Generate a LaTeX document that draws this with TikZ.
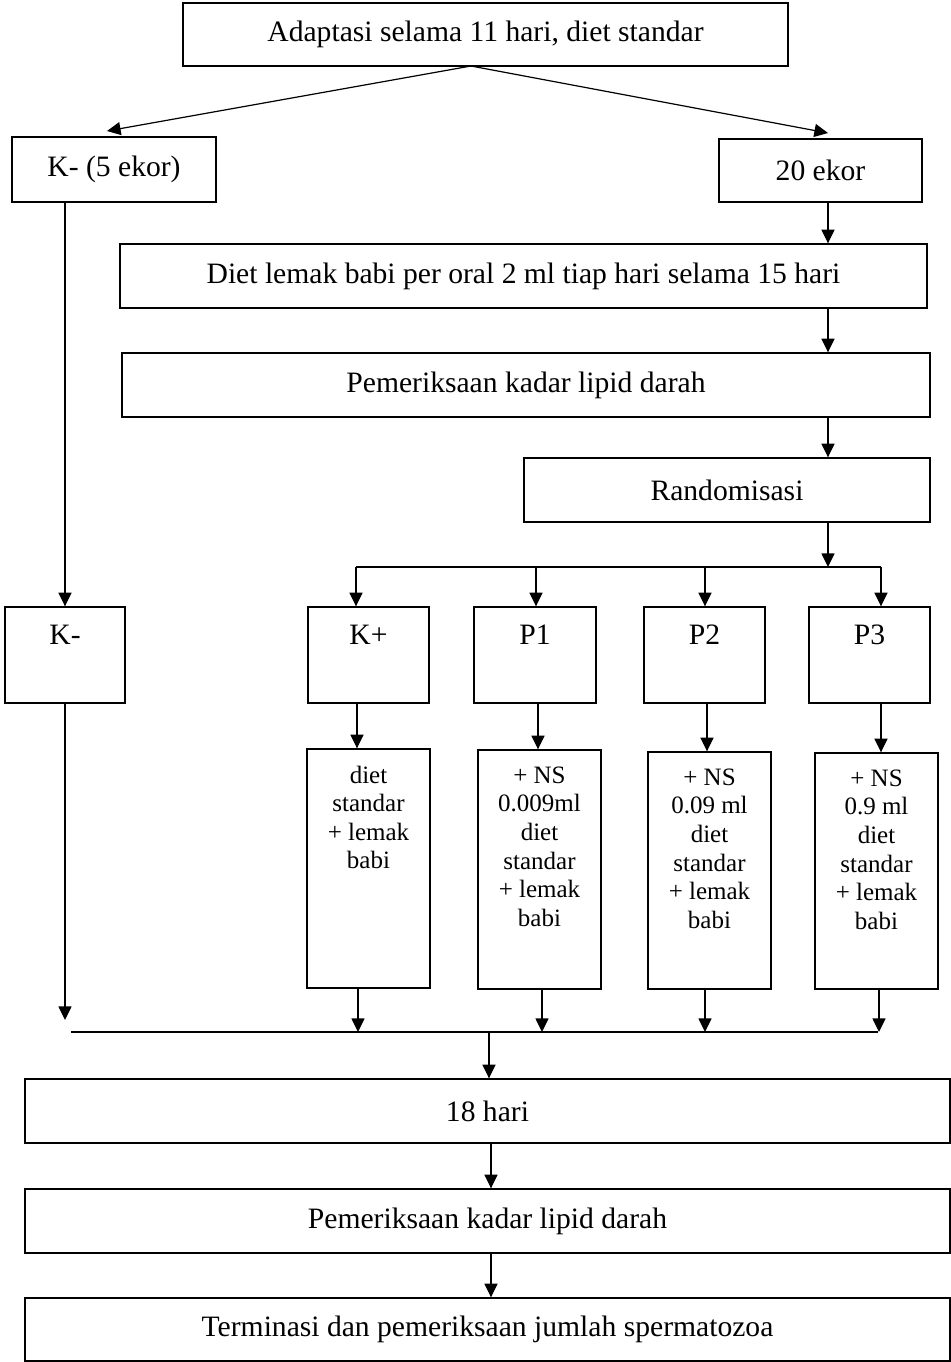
\documentclass[tikz,border=0pt]{standalone}
\usepackage{fontspec}
\setmainfont{Liberation Serif}
\usetikzlibrary{arrows.meta}
\begin{document}
\begin{tikzpicture}[x=0.5pt,y=-0.5pt,
  box/.style={draw, line width=0.7pt, inner sep=0pt, align=center, font=\fontsize{14.8}{17}\selectfont},
  lbl/.style={inner sep=0pt, align=center, font=\fontsize{14.8}{17}\selectfont},
  small/.style={inner sep=0pt, align=center, font=\fontsize{12.5}{14.3}\selectfont},
  arr/.style={line width=0.6pt, -{Triangle[length=6.8pt,width=6.5pt]}},
  ln/.style={line width=0.6pt}]
\useasboundingbox (0,0) rectangle (951,1362);

% main boxes
\node[box, minimum width=302.5pt, minimum height=31.5pt] (top) at (485.5,34.5) {Adaptasi selama 11 hari, diet standar};
\node[box, minimum width=102pt, minimum height=32.5pt] (k5) at (114,169.5) {K- (5 ekor)};
\node[box, minimum width=101.5pt, minimum height=31.5pt] (e20) at (820.5,170.5) {20 ekor};
\node[box, minimum width=403.5pt, minimum height=32pt] (diet) at (523.5,276) {Diet lemak babi per oral 2 ml tiap hari selama 15 hari};
\node[box, minimum width=404pt, minimum height=32pt] (pem1) at (526,385) {Pemeriksaan kadar lipid darah};
\node[box, minimum width=203pt, minimum height=32pt] (rand) at (727,490) {Randomisasi};

% group boxes
\node[box, minimum width=60pt, minimum height=48pt] (km) at (65,655) {};
\node[box, minimum width=60.5pt, minimum height=48pt] (kp) at (368.5,655) {};
\node[box, minimum width=61pt, minimum height=48pt] (p1) at (535,655) {};
\node[box, minimum width=60.5pt, minimum height=48pt] (p2) at (704.5,655) {};
\node[box, minimum width=60.5pt, minimum height=48pt] (p3) at (869.5,655) {};
\node[lbl, anchor=north, yshift=-9pt] (kmt) at (km.north) {K-};
\node[lbl, anchor=north, yshift=-9pt] (kpt) at (kp.north) {K+};
\node[lbl, anchor=north, yshift=-9pt] (p1t) at (p1.north) {P1};
\node[lbl, anchor=north, yshift=-9pt] (p2t) at (p2.north) {P2};
\node[lbl, anchor=north, yshift=-9pt] (p3t) at (p3.north) {P3};

% treatment boxes
\node[box, minimum width=61.5pt, minimum height=119.5pt] (kp2) at (368.5,868.5) {};
\node[box, minimum width=61.5pt, minimum height=119.5pt] (p12) at (539.5,869.5) {};
\node[box, minimum width=61.5pt, minimum height=118.5pt] (p22) at (709.5,870.5) {};
\node[box, minimum width=61.5pt, minimum height=118pt] (p32) at (876.5,871) {};
\node[small, anchor=north, yshift=-8.5pt] (kp2t) at (kp2.north) {diet\\standar\\+ lemak\\babi};
\node[small, anchor=north, yshift=-8.5pt] (p12t) at (p12.north) {+ NS\\0.009ml\\diet\\standar\\+ lemak\\babi};
\node[small, anchor=north, yshift=-8.5pt] (p22t) at (p22.north) {+ NS\\0.09 ml\\diet\\standar\\+ lemak\\babi};
\node[small, anchor=north, yshift=-8.5pt] (p32t) at (p32.north) {+ NS\\0.9 ml\\diet\\standar\\+ lemak\\babi};

% bottom boxes
\node[box, minimum width=462.5pt, minimum height=32pt] (h18) at (487.5,1111) {18 hari};
\node[box, minimum width=462.5pt, minimum height=32pt] (pem2) at (487.5,1221) {Pemeriksaan kadar lipid darah};
\node[box, minimum width=462.5pt, minimum height=31.5pt] (term) at (487.5,1329.5) {Terminasi dan pemeriksaan jumlah spermatozoa};

% helper coordinates
\coordinate (topout) at (471,66);
\coordinate (tipL) at (107,131);
\coordinate (tipR) at (828,133);
\coordinate (colR) at (828,0);
\coordinate (busL) at (356,567);
\coordinate (busR) at (881,567);
\coordinate (b1) at (536,567);
\coordinate (b2) at (705,567);
\coordinate (d0) at (357,0);
\coordinate (d1) at (538,0);
\coordinate (d2) at (707,0);
\coordinate (d3) at (881,0);
\coordinate (m0) at (358,1032);
\coordinate (m1) at (542,1032);
\coordinate (m2) at (705,1032);
\coordinate (m3) at (879,1032);
\coordinate (mL) at (71,1032);
\coordinate (mR) at (878,1032);
\coordinate (mc) at (489,1032);
\coordinate (kmend) at (65,1020);
\coordinate (colB) at (491,0);

% connectors
\draw[arr] (topout) -- (tipL);
\draw[arr] (topout) -- (tipR);
\draw[arr] (k5.south -| km.north) -- (km.north);
\draw[arr] (e20.south -| colR) -- (diet.north -| colR);
\draw[arr] (diet.south -| colR) -- (pem1.north -| colR);
\draw[arr] (pem1.south -| colR) -- (rand.north -| colR);
\draw[arr] (rand.south -| colR) -- (busL -| colR);
\draw[ln] (busL) -- (busR);
\draw[arr] (busL) -- (kp.north -| busL);
\draw[arr] (b1) -- (p1.north -| b1);
\draw[arr] (b2) -- (p2.north -| b2);
\draw[arr] (busR) -- (p3.north -| busR);
\draw[arr] (kp.south -| d0) -- (kp2.north -| d0);
\draw[arr] (p1.south -| d1) -- (p12.north -| d1);
\draw[arr] (p2.south -| d2) -- (p22.north -| d2);
\draw[arr] (p3.south -| d3) -- (p32.north -| d3);
\draw[arr] (km.south) -- (kmend);
\draw[arr] (kp2.south -| m0) -- (m0);
\draw[arr] (p12.south -| m1) -- (m1);
\draw[arr] (p22.south -| m2) -- (m2);
\draw[arr] (p32.south -| m3) -- (m3);
\draw[ln] (mL) -- (mR);
\draw[arr] (mc) -- (h18.north -| mc);
\draw[arr] (h18.south -| colB) -- (pem2.north -| colB);
\draw[arr] (pem2.south -| colB) -- (term.north -| colB);
\end{tikzpicture}
\end{document}
